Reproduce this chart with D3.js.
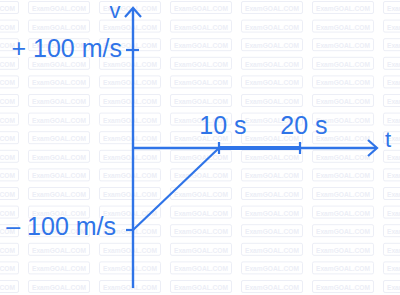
<!DOCTYPE html>
<html>
<head>
<meta charset="utf-8">
<script src="https://cdn.jsdelivr.net/npm/d3@7"></script>
<style>
body { margin: 0; background: #fff; }
svg { display: block; font-family: 'Liberation Sans', Arial, sans-serif; }
</style>
</head>
<body>
<svg width="400" height="295"></svg>
<script>
// v-t graph data
var times = [0, 10, 20];            // s
var velocity = [-100, 0, 0];        // m/s
var yTickVals = [100, -100];
var yTickLabels = ["+ 100 m/s", "\u2013 100 m/s"];
var xTickVals = [10, 20];
var xTickLabels = ["10 s", "20 s"];

var blue = "#2f74e8";
var svg = d3.select("svg");

// faint watermark grid in the background
var wm = svg.append("g");
for (var r = 0; r < 16; r++) {
  for (var c = -1; c < 6; c++) {
    var bx = 28 + c * 71, by = 1 + r * 18.6;
    wm.append("rect").attr("x", bx + 0.5).attr("y", by + 0.5)
      .attr("width", 61).attr("height", 12).attr("rx", 1.5)
      .attr("fill", "none").attr("stroke", "#eceef6").attr("stroke-width", 1);
    wm.append("text").attr("x", bx + 4).attr("y", by + 10)
      .attr("font-size", 8).attr("font-weight", "bold")
      .attr("textLength", 54).attr("lengthAdjust", "spacingAndGlyphs")
      .attr("fill", "#eceef6").text("ExamGOAL.COM");
  }
}

// scales (the drawing is not quite linear, so use piecewise scales)
var x = d3.scaleLinear().domain([0, 10, 20]).range([133, 219, 300]);
var y = d3.scaleLinear().domain([-100, 0, 100]).range([230, 148, 50]);

var g = svg.append("g").attr("stroke", blue).attr("fill", "none")
  .attr("stroke-linecap", "butt");

// y axis with arrow
g.append("line").attr("x1", x(0)).attr("x2", x(0)).attr("y1", 288).attr("y2", 8)
  .attr("stroke-width", 2.4);
g.append("path").attr("d", "M" + (x(0) - 8) + ",17L" + x(0) + ",8L" + (x(0) + 8) + ",17")
  .attr("stroke-width", 2.2);

// x axis with arrow
g.append("line").attr("x1", x(0)).attr("x2", 376).attr("y1", y(0)).attr("y2", y(0))
  .attr("stroke-width", 2.4);
g.append("path").attr("d", "M368," + (y(0) - 8) + "L377," + y(0) + "L368," + (y(0) + 8))
  .attr("stroke-width", 2.2);

// y ticks
g.selectAll("line.yt").data(yTickVals).enter().append("line").attr("class", "yt")
  .attr("x1", x(0) - 7).attr("x2", function (d) { return d > 0 ? x(0) + 6 : x(0); })
  .attr("y1", function (d) { return y(d); }).attr("y2", function (d) { return y(d); })
  .attr("stroke-width", 2.2);

// x ticks
g.selectAll("line.xt").data(xTickVals).enter().append("line").attr("class", "xt")
  .attr("x1", function (d) { return x(d); }).attr("x2", function (d) { return x(d); })
  .attr("y1", y(0) - 6).attr("y2", y(0) + 6)
  .attr("stroke-width", 2.2);

// the v-t line: sloped part then constant part thicker
var pts = times.map(function (t, i) { return [x(t), y(velocity[i])]; });
g.append("path").attr("d", d3.line()(pts.slice(0, 2))).attr("stroke-width", 2.2);
g.append("path").attr("d", d3.line()(pts.slice(1))).attr("stroke-width", 4);

// labels
var t = svg.append("g").attr("fill", blue).attr("font-size", 25);
t.selectAll("text.yl").data(yTickVals).enter().append("text").attr("class", "yl")
  .attr("x", function (d) { return d > 0 ? 122 : 116; })
  .attr("y", function (d) { return y(d) + (d > 0 ? 7 : 5); })
  .attr("text-anchor", "end")
  .text(function (d, i) { return yTickLabels[i]; });
t.selectAll("text.xl").data(xTickVals).enter().append("text").attr("class", "xl")
  .attr("x", function (d) { return x(d) + 4; }).attr("y", 134)
  .attr("text-anchor", "middle")
  .text(function (d, i) { return xTickLabels[i]; });
t.append("text").attr("x", 115).attr("y", 18).attr("text-anchor", "middle")
  .attr("font-size", 22).text("v");
t.append("text").attr("x", 388).attr("y", 147).attr("text-anchor", "middle")
  .attr("font-size", 22).text("t");
</script>
</body>
</html>
